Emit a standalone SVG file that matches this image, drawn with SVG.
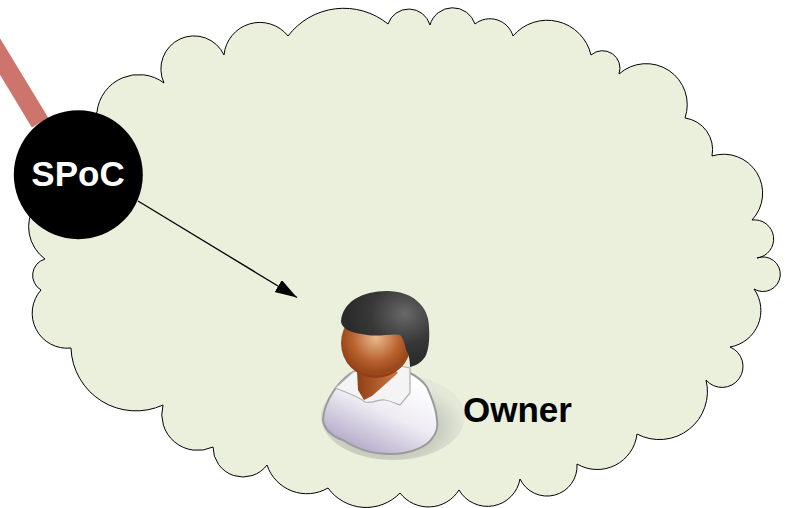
<svg xmlns="http://www.w3.org/2000/svg" width="787" height="508" viewBox="0 0 787 508">
<style>
.t{font-family:"Liberation Sans",Arial,sans-serif;font-weight:700;font-size:35px}
</style>
<defs>
<marker id="ah" markerUnits="userSpaceOnUse" markerWidth="24" markerHeight="18" refX="22" refY="7" orient="auto"><path d="M0 0L22 7L0 14Z" fill="#000"/></marker>
<radialGradient id="shadow" cx=".45" cy=".62" r=".55"><stop offset="0" stop-color="#a9ad9f"/><stop offset=".72" stop-color="#cdd2c4"/><stop offset="1" stop-color="#e3e8d8"/></radialGradient>
<radialGradient id="hair" cx=".72" cy=".3" r=".65"><stop offset="0" stop-color="#686868"/><stop offset=".6" stop-color="#383838"/><stop offset="1" stop-color="#2b2b2b"/></radialGradient>
<radialGradient id="face" cx=".5" cy=".42" r=".56"><stop offset="0" stop-color="#eabb90"/><stop offset=".6" stop-color="#b9622f"/><stop offset="1" stop-color="#8f3f15"/></radialGradient>
<linearGradient id="neck" x1="0" y1="0" x2="1" y2="0"><stop offset="0" stop-color="#8f3f15"/><stop offset="1" stop-color="#d07a40"/></linearGradient>
<linearGradient id="shirt" x1=".75" y1=".1" x2=".2" y2=".95"><stop offset="0" stop-color="#fff"/><stop offset=".45" stop-color="#eeebf3"/><stop offset="1" stop-color="#aea5c5"/></linearGradient>
</defs>
<g id="cloud">
<path fill="#ebf0dd" stroke="#000" stroke-width="1" d="M97 112A42 42 0 0 1 164 83A32 32 0 1 1 224 55A36 36 0 0 1 288 36A70 70 0 0 1 388 24A22 22 0 0 1 430 25A23.500 23.500 0 0 1 475 24A24 24 0 0 1 513 36A45 45 0 0 1 591 55A17.500 17.500 0 0 1 619 74A41 41 0 0 1 685 118A32 32 0 0 1 712 156A39 39 0 0 1 752 220A19 19 0 0 1 757 258A17.300 17.300 0 1 1 754 289A37 37 0 0 1 730 347A21 21 0 1 1 706 380A48 48 0 0 1 637 434A40 40 0 0 1 577 464A30 30 0 0 1 520 479A33 33 0 0 1 459 490A36 36 0 0 1 400 493A47 47 0 0 1 328 488A42 42 0 0 1 267 465A30 30 0 0 1 213 447A36 36 0 0 1 163 405A65 65 0 0 1 71 348A35 35 0 0 1 41 290A17 17 0 0 1 45 259A40 40 0 0 1 35 205L97 112Z"/>
</g>
<g id="connectors">
<line x1="-10" y1="40" x2="40" y2="122.500" stroke="#cd746c" stroke-width="19"/>
<line x1="138" y1="201" x2="297" y2="297.500" stroke="#000" stroke-width="1.300" marker-end="url(#ah)"/>
</g>
<g id="spoc">
<circle cx="78.300" cy="174.700" r="64.500" fill="#000"/>
<text class="t" x="78" y="186" text-anchor="middle" fill="#fff">SPoC</text>
</g>
<g id="owner">
<ellipse cx="393" cy="417" rx="72" ry="43" fill="url(#shadow)"/>
<path fill="url(#shirt)" stroke="#9a9a9a" stroke-width="2" d="M357 370C340 378 324 400 323 420C325 432 334 437 343 440C358 450 374 454 390 454C412 454 428 446 433 437C437 432 438 426 437 420C436 405 430 395 427 387C422 380 416 376 410 373Z"/>
<path fill="#f5f4f5" stroke="#b0b0b0" stroke-width="1.200" d="M353 372L335 388C345 392 358 396 365 402C372 404 378 399 385 400C392 401 396 404 400 405L410 393L410 368L380 362Z"/>
<path fill="url(#neck)" d="M357 370L358 390L364 400L372 396L398 373L385 360Z"/>
<circle cx="376" cy="343" r="35" fill="url(#face)"/>
<path fill="none" stroke="#9f4a1c" stroke-width="2" d="M345 350C350 366 364 374 376 374C392 374 404 366 407 356"/>
<path fill="url(#hair)" d="M341 322C342 302 362 291 387 291C412 291 429 306 429 327C430 342 428 352 425 357C421 363 415 366 410 367C410 358 408 353 406 350C405 344 403 338 400 335C393 333 380 337 367 335C355 333 343 331 341 322Z"/>
</g>
<text class="t" x="463" y="422" fill="#000">Owner</text>
</svg>
